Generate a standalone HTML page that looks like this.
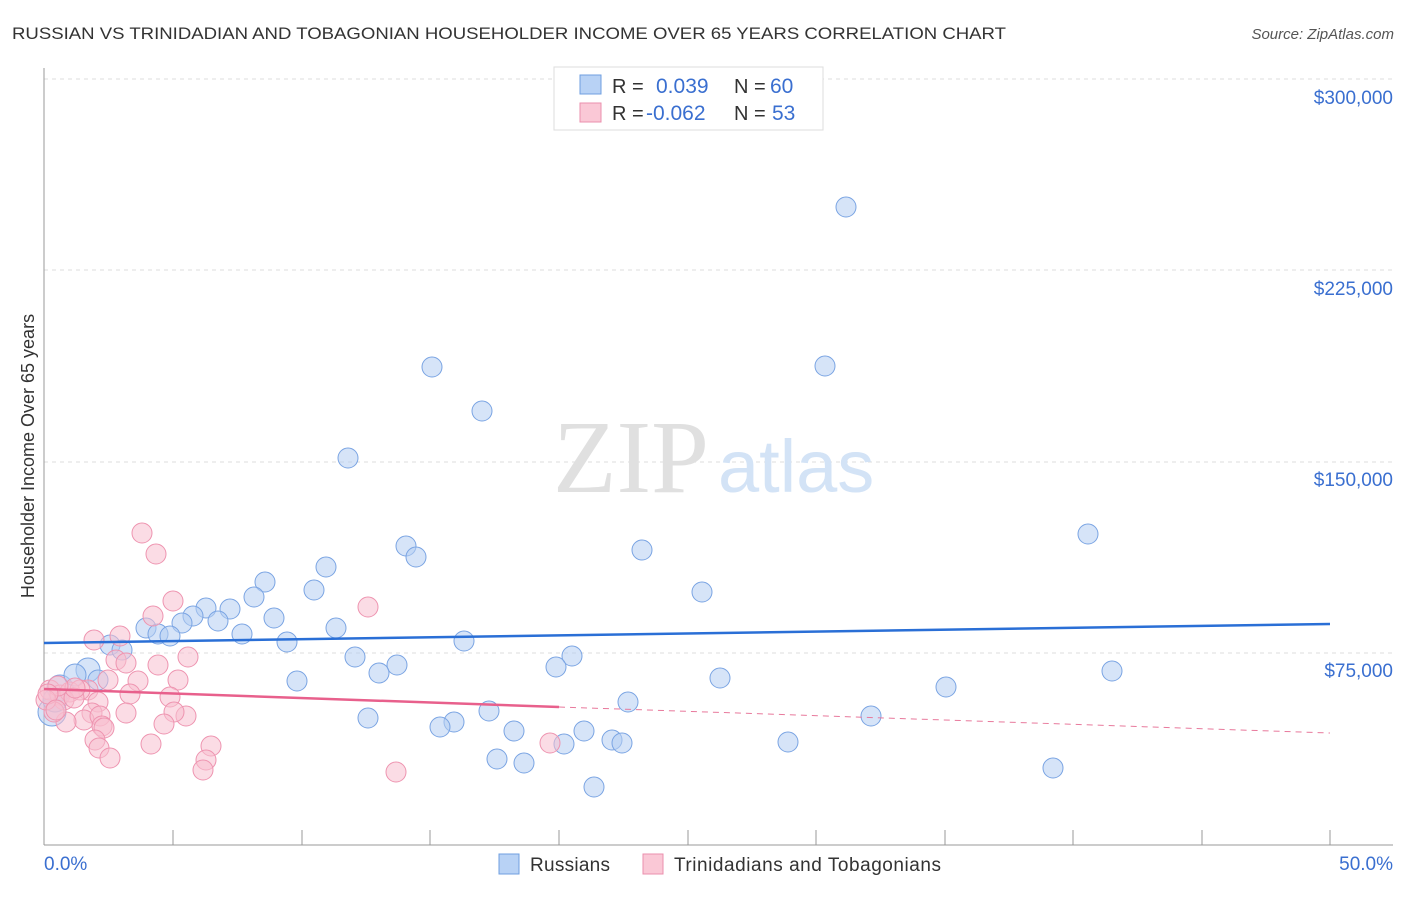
<!DOCTYPE html>
<html><head><meta charset="utf-8"><style>
body{margin:0;background:#fff;font-family:"Liberation Sans",sans-serif}
</style></head><body>
<svg width="1406" height="892" xmlns="http://www.w3.org/2000/svg" font-family="Liberation Sans, sans-serif">
<text x="12" y="39" font-size="17" fill="#333" textLength="994" lengthAdjust="spacingAndGlyphs">RUSSIAN VS TRINIDADIAN AND TOBAGONIAN HOUSEHOLDER INCOME OVER 65 YEARS CORRELATION CHART</text>
<text x="1394" y="39" font-size="15" fill="#555" font-style="italic" text-anchor="end">Source: ZipAtlas.com</text>
<g stroke="#ddd" stroke-dasharray="4,4" stroke-width="1">
<line x1="44" y1="79" x2="1393" y2="79"/><line x1="44" y1="270" x2="1393" y2="270"/>
<line x1="44" y1="462" x2="1393" y2="462"/><line x1="44" y1="653" x2="1393" y2="653"/>
</g>
<line x1="44" y1="68" x2="44" y2="845" stroke="#999"/>
<line x1="44" y1="845" x2="1393" y2="845" stroke="#999"/>
<g stroke="#999"><line x1="173" y1="830" x2="173" y2="845"/><line x1="302" y1="830" x2="302" y2="845"/><line x1="430" y1="830" x2="430" y2="845"/><line x1="559" y1="830" x2="559" y2="845"/><line x1="688" y1="830" x2="688" y2="845"/><line x1="816" y1="830" x2="816" y2="845"/><line x1="945" y1="830" x2="945" y2="845"/><line x1="1073" y1="830" x2="1073" y2="845"/><line x1="1202" y1="830" x2="1202" y2="845"/><line x1="1330" y1="830" x2="1330" y2="845"/></g>
<g font-size="19" fill="#3a6fd0" text-anchor="end">
<text x="1393" y="104">$300,000</text><text x="1393" y="295">$225,000</text><text x="1393" y="486">$150,000</text><text x="1393" y="677">$75,000</text></g>
<text x="44" y="870" font-size="19" fill="#3a6fd0">0.0%</text>
<text x="1393" y="870" font-size="19" fill="#3a6fd0" text-anchor="end">50.0%</text>
<text transform="translate(34,456) rotate(-90)" font-size="18" fill="#333" text-anchor="middle">Householder Income Over 65 years</text>
<text x="553" y="492" font-size="104" fill="#e0e0e0" font-family="Liberation Serif, serif">ZIP</text>
<text x="718" y="492" font-size="74" fill="#d3e3f6">atlas</text>
<g fill="#b4cef2" fill-opacity="0.55" stroke="#7aa4e3" stroke-width="1">
<circle cx="846" cy="207" r="10"/><circle cx="432" cy="367" r="10"/><circle cx="825" cy="366" r="10"/><circle cx="482" cy="411" r="10"/><circle cx="348" cy="458" r="10"/><circle cx="1088" cy="534" r="10"/><circle cx="406" cy="546" r="10"/><circle cx="416" cy="557" r="10"/><circle cx="642" cy="550" r="10"/><circle cx="326" cy="567" r="10"/><circle cx="265" cy="582" r="10"/><circle cx="314" cy="590" r="10"/><circle cx="254" cy="597" r="10"/><circle cx="702" cy="592" r="10"/><circle cx="206" cy="608" r="10"/><circle cx="230" cy="609" r="10"/><circle cx="193" cy="616" r="10"/><circle cx="274" cy="618" r="10"/><circle cx="182" cy="623" r="10"/><circle cx="218" cy="621" r="10"/><circle cx="146" cy="628" r="10"/><circle cx="158" cy="634" r="10"/><circle cx="170" cy="636" r="10"/><circle cx="242" cy="634" r="10"/><circle cx="336" cy="628" r="10"/><circle cx="287" cy="642" r="10"/><circle cx="464" cy="641" r="10"/><circle cx="110" cy="645" r="10"/><circle cx="122" cy="650" r="10"/><circle cx="355" cy="657" r="10"/><circle cx="397" cy="665" r="10"/><circle cx="572" cy="656" r="10"/><circle cx="556" cy="667" r="10"/><circle cx="379" cy="673" r="10"/><circle cx="1112" cy="671" r="10"/><circle cx="720" cy="678" r="10"/><circle cx="297" cy="681" r="10"/><circle cx="946" cy="687" r="10"/><circle cx="88" cy="670" r="12"/><circle cx="98" cy="680" r="10"/><circle cx="60" cy="688" r="13"/><circle cx="75" cy="675" r="11"/><circle cx="628" cy="702" r="10"/><circle cx="489" cy="711" r="10"/><circle cx="368" cy="718" r="10"/><circle cx="454" cy="722" r="10"/><circle cx="440" cy="727" r="10"/><circle cx="871" cy="716" r="10"/><circle cx="514" cy="731" r="10"/><circle cx="584" cy="731" r="10"/><circle cx="612" cy="740" r="10"/><circle cx="564" cy="744" r="10"/><circle cx="622" cy="743" r="10"/><circle cx="788" cy="742" r="10"/><circle cx="497" cy="759" r="10"/><circle cx="524" cy="763" r="10"/><circle cx="1053" cy="768" r="10"/><circle cx="594" cy="787" r="10"/><circle cx="52" cy="712" r="14"/><circle cx="55" cy="700" r="12"/>
</g>
<g fill="#f7c0d0" fill-opacity="0.55" stroke="#ee94b0" stroke-width="1">
<circle cx="142" cy="533" r="10"/><circle cx="156" cy="554" r="10"/><circle cx="173" cy="601" r="10"/><circle cx="153" cy="616" r="10"/><circle cx="368" cy="607" r="10"/><circle cx="94" cy="640" r="10"/><circle cx="120" cy="636" r="10"/><circle cx="188" cy="657" r="10"/><circle cx="116" cy="660" r="10"/><circle cx="126" cy="663" r="10"/><circle cx="158" cy="665" r="10"/><circle cx="108" cy="680" r="10"/><circle cx="138" cy="681" r="10"/><circle cx="178" cy="680" r="10"/><circle cx="88" cy="690" r="10"/><circle cx="130" cy="694" r="10"/><circle cx="170" cy="697" r="10"/><circle cx="50" cy="690" r="10"/><circle cx="60" cy="695" r="10"/><circle cx="70" cy="692" r="10"/><circle cx="80" cy="690" r="10"/><circle cx="64" cy="700" r="10"/><circle cx="74" cy="698" r="10"/><circle cx="98" cy="702" r="10"/><circle cx="186" cy="716" r="10"/><circle cx="174" cy="712" r="10"/><circle cx="126" cy="713" r="10"/><circle cx="92" cy="713" r="10"/><circle cx="84" cy="720" r="10"/><circle cx="100" cy="716" r="10"/><circle cx="66" cy="722" r="10"/><circle cx="102" cy="726" r="10"/><circle cx="104" cy="728" r="10"/><circle cx="164" cy="724" r="10"/><circle cx="54" cy="712" r="10"/><circle cx="95" cy="740" r="10"/><circle cx="99" cy="748" r="10"/><circle cx="151" cy="744" r="10"/><circle cx="211" cy="746" r="10"/><circle cx="206" cy="760" r="10"/><circle cx="110" cy="758" r="10"/><circle cx="203" cy="770" r="10"/><circle cx="396" cy="772" r="10"/><circle cx="550" cy="743" r="10"/><circle cx="75" cy="688" r="10"/><circle cx="58" cy="686" r="10"/><circle cx="46" cy="700" r="10"/><circle cx="48" cy="694" r="10"/><circle cx="56" cy="710" r="10"/>
</g>
<line x1="44" y1="643" x2="1330" y2="624" stroke="#2a6fd6" stroke-width="2.5"/>
<line x1="44" y1="689" x2="559" y2="707" stroke="#e8608c" stroke-width="2.5"/>
<line x1="559" y1="707" x2="1330" y2="733" stroke="#e8799c" stroke-width="1" stroke-dasharray="6,5"/>
<rect x="554" y="67" width="269" height="63" fill="#fff" stroke="#ddd"/>
<rect x="580" y="75" width="21" height="19" fill="#b8d2f5" stroke="#6f9fe0"/>
<rect x="580" y="103" width="21" height="19" fill="#fac8d6" stroke="#eb8fad"/>
<g font-size="20"><text x="612" y="93" fill="#333">R =</text><text x="656" y="93" fill="#3a6fd0" font-size="21">0.039</text><text x="734" y="93" fill="#333">N =</text><text x="770" y="93" fill="#3a6fd0" font-size="21">60</text>
<text x="612" y="120" fill="#333">R =</text><text x="646" y="120" fill="#3a6fd0" font-size="21">-0.062</text><text x="734" y="120" fill="#333">N =</text><text x="772" y="120" fill="#3a6fd0" font-size="21">53</text></g>
<rect x="499" y="854" width="20" height="20" fill="#b8d2f5" stroke="#6f9fe0"/>
<text x="530" y="871" font-size="19" fill="#333" textLength="80">Russians</text>
<rect x="643" y="854" width="20" height="20" fill="#fac8d6" stroke="#eb8fad"/>
<text x="674" y="871" font-size="19" fill="#333" textLength="267">Trinidadians and Tobagonians</text>
</svg>
</body></html>
